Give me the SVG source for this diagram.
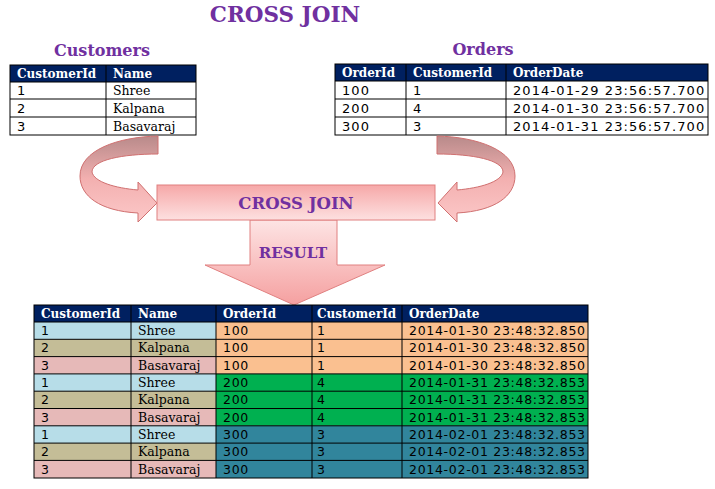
<svg xmlns="http://www.w3.org/2000/svg" width="715" height="489" viewBox="0 0 715 489">
<style>
.t{font-family:"DejaVu Serif",serif;font-weight:bold;fill:#7030a0}
.h{font-family:"DejaVu Serif",serif;font-weight:bold;font-size:12px;fill:#fff}
.s{font-family:"DejaVu Serif",serif;font-size:12.5px;fill:#000}
.n{font-family:"DejaVu Sans",sans-serif;font-size:13px;letter-spacing:1.1px;fill:#000}
.r{font-family:"DejaVu Sans",sans-serif;font-size:12.5px;letter-spacing:0.7px;fill:#000}
.g{stroke:#000;stroke-width:1;fill:none}
.hd{fill:#002060}
</style>
<defs>
<linearGradient id="pk" x1="0" y1="0" x2="0" y2="1"><stop offset="0" stop-color="#f6a8a8"/><stop offset="1" stop-color="#fde0e0"/></linearGradient>
<linearGradient id="ar" x1="0" y1="0" x2="0" y2="1"><stop offset="0" stop-color="#b88a8a"/><stop offset="0.5" stop-color="#f3b0b0"/><stop offset="1" stop-color="#fcc8c8"/></linearGradient>
<linearGradient id="dn" x1="0" y1="0" x2="0" y2="1"><stop offset="0" stop-color="#fde4e4"/><stop offset="1" stop-color="#f5a0a0"/></linearGradient>
<path id="carrow" d="M158,136 L158,154 C122,154 92,160 92,172 C94,182 115,188 138,190 L138,182 L157,203 L138,222 L138,213 C100,211 80,196 80,176 C80,150 118,137 158,136 Z" fill="url(#ar)" stroke="#d07070" stroke-width="1"/>
</defs>
<text class="t" x="285" y="22" font-size="21.5" text-anchor="middle">CROSS JOIN</text>
<g id="customers">
<text class="t" x="102" y="56" font-size="16" text-anchor="middle">Customers</text>
<rect class="hd" x="10" y="65" width="186" height="17"/>
<rect x="10" y="82" width="186" height="53" fill="#fff"/>
<g class="g"><rect x="10" y="65" width="186" height="70"/><line x1="10" y1="82" x2="196" y2="82"/><line x1="10" y1="99" x2="196" y2="99"/><line x1="10" y1="117" x2="196" y2="117"/><line x1="106" y1="65" x2="106" y2="135"/></g>
<text class="h" x="17" y="78">CustomerId</text><text class="h" x="113" y="78">Name</text>
<text class="n" x="17" y="95">1</text><text class="s" x="113" y="95">Shree</text>
<text class="n" x="17" y="113">2</text><text class="s" x="113" y="113">Kalpana</text>
<text class="n" x="17" y="131">3</text><text class="s" x="113" y="131">Basavaraj</text>
</g>
<g id="orders">
<text class="t" x="483" y="55" font-size="16" text-anchor="middle">Orders</text>
<rect class="hd" x="335" y="64" width="373" height="17"/>
<rect x="335" y="81" width="373" height="54" fill="#fff"/>
<g class="g"><rect x="335" y="64" width="373" height="71"/><line x1="335" y1="81" x2="708" y2="81"/><line x1="335" y1="99" x2="708" y2="99"/><line x1="335" y1="117" x2="708" y2="117"/><line x1="406" y1="64" x2="406" y2="135"/><line x1="506" y1="64" x2="506" y2="135"/></g>
<text class="h" x="342" y="77">OrderId</text><text class="h" x="413" y="77">CustomerId</text><text class="h" x="513" y="77">OrderDate</text>
<text class="n" x="342" y="95">100</text><text class="n" x="413" y="95">1</text><text class="n" x="513" y="95">2014-01-29 23:56:57.700</text>
<text class="n" x="342" y="113">200</text><text class="n" x="413" y="113">4</text><text class="n" x="513" y="113">2014-01-30 23:56:57.700</text>
<text class="n" x="342" y="131">300</text><text class="n" x="413" y="131">3</text><text class="n" x="513" y="131">2014-01-31 23:56:57.700</text>
</g>
<g id="connectors">
<use href="#carrow"/>
<use href="#carrow" transform="translate(595,0) scale(-1,1)"/>
<path d="M250,220 L337,220 L337,265 L385,265 L294,305 L205,265 L250,265 Z" fill="url(#dn)" stroke="#e08080" stroke-width="1"/>
</g>
<g id="crossjoin">
<rect x="157" y="185" width="278" height="35" fill="url(#pk)" stroke="#e08080" stroke-width="1"/>
<text class="t" x="296" y="209" font-size="16.5" text-anchor="middle">CROSS JOIN</text>
</g>
<text class="t" x="293" y="258" font-size="15" text-anchor="middle">RESULT</text>
<g id="result">
<rect class="hd" x="34" y="305" width="554" height="17"/>
<rect x="34" y="322" width="182" height="17.3" fill="#b7dde8"/>
<rect x="34" y="339.3" width="182" height="17.3" fill="#c4bd97"/>
<rect x="34" y="356.6" width="182" height="17.3" fill="#e6b9b8"/>
<rect x="34" y="373.9" width="182" height="17.3" fill="#b7dde8"/>
<rect x="34" y="391.2" width="182" height="17.3" fill="#c4bd97"/>
<rect x="34" y="408.5" width="182" height="17.3" fill="#e6b9b8"/>
<rect x="34" y="425.8" width="182" height="17.3" fill="#b7dde8"/>
<rect x="34" y="443.1" width="182" height="17.3" fill="#c4bd97"/>
<rect x="34" y="460.4" width="182" height="17.6" fill="#e6b9b8"/>
<rect x="216" y="322" width="372" height="51.9" fill="#fac090"/>
<rect x="216" y="373.9" width="372" height="51.9" fill="#00b050"/>
<rect x="216" y="425.8" width="372" height="52.2" fill="#31859c"/>
<g class="g">
<rect x="34" y="305" width="554" height="173"/>
<line x1="34" y1="322" x2="588" y2="322"/><line x1="34" y1="339.3" x2="588" y2="339.3"/><line x1="34" y1="356.6" x2="588" y2="356.6"/><line x1="34" y1="373.9" x2="588" y2="373.9"/><line x1="34" y1="391.2" x2="588" y2="391.2"/><line x1="34" y1="408.5" x2="588" y2="408.5"/><line x1="34" y1="425.8" x2="588" y2="425.8"/><line x1="34" y1="443.1" x2="588" y2="443.1"/><line x1="34" y1="460.4" x2="588" y2="460.4"/>
<line x1="131" y1="305" x2="131" y2="478"/><line x1="216" y1="305" x2="216" y2="478"/><line x1="312" y1="305" x2="312" y2="478"/><line x1="402" y1="305" x2="402" y2="478"/>
</g>
<text class="h" x="41" y="318">CustomerId</text><text class="h" x="138" y="318">Name</text><text class="h" x="223" y="318">OrderId</text><text class="h" x="317" y="318">CustomerId</text><text class="h" x="409" y="318">OrderDate</text>
<g class="r">
<text x="41" y="335">1</text><text x="41" y="352">2</text><text x="41" y="370">3</text><text x="41" y="387">1</text><text x="41" y="404">2</text><text x="41" y="422">3</text><text x="41" y="439">1</text><text x="41" y="456">2</text><text x="41" y="474">3</text>
<text x="223" y="335">100</text><text x="223" y="352">100</text><text x="223" y="370">100</text><text x="223" y="387">200</text><text x="223" y="404">200</text><text x="223" y="422">200</text><text x="223" y="439">300</text><text x="223" y="456">300</text><text x="223" y="474">300</text>
<text x="317" y="335">1</text><text x="317" y="352">1</text><text x="317" y="370">1</text><text x="317" y="387">4</text><text x="317" y="404">4</text><text x="317" y="422">4</text><text x="317" y="439">3</text><text x="317" y="456">3</text><text x="317" y="474">3</text>
<text x="409" y="335">2014-01-30 23:48:32.850</text><text x="409" y="352">2014-01-30 23:48:32.850</text><text x="409" y="370">2014-01-30 23:48:32.850</text><text x="409" y="387">2014-01-31 23:48:32.853</text><text x="409" y="404">2014-01-31 23:48:32.853</text><text x="409" y="422">2014-01-31 23:48:32.853</text><text x="409" y="439">2014-02-01 23:48:32.853</text><text x="409" y="456">2014-02-01 23:48:32.853</text><text x="409" y="474">2014-02-01 23:48:32.853</text>
</g>
<g class="s">
<text x="138" y="335">Shree</text><text x="138" y="352">Kalpana</text><text x="138" y="370">Basavaraj</text><text x="138" y="387">Shree</text><text x="138" y="404">Kalpana</text><text x="138" y="422">Basavaraj</text><text x="138" y="439">Shree</text><text x="138" y="456">Kalpana</text><text x="138" y="474">Basavaraj</text>
</g>
</g>
</svg>
